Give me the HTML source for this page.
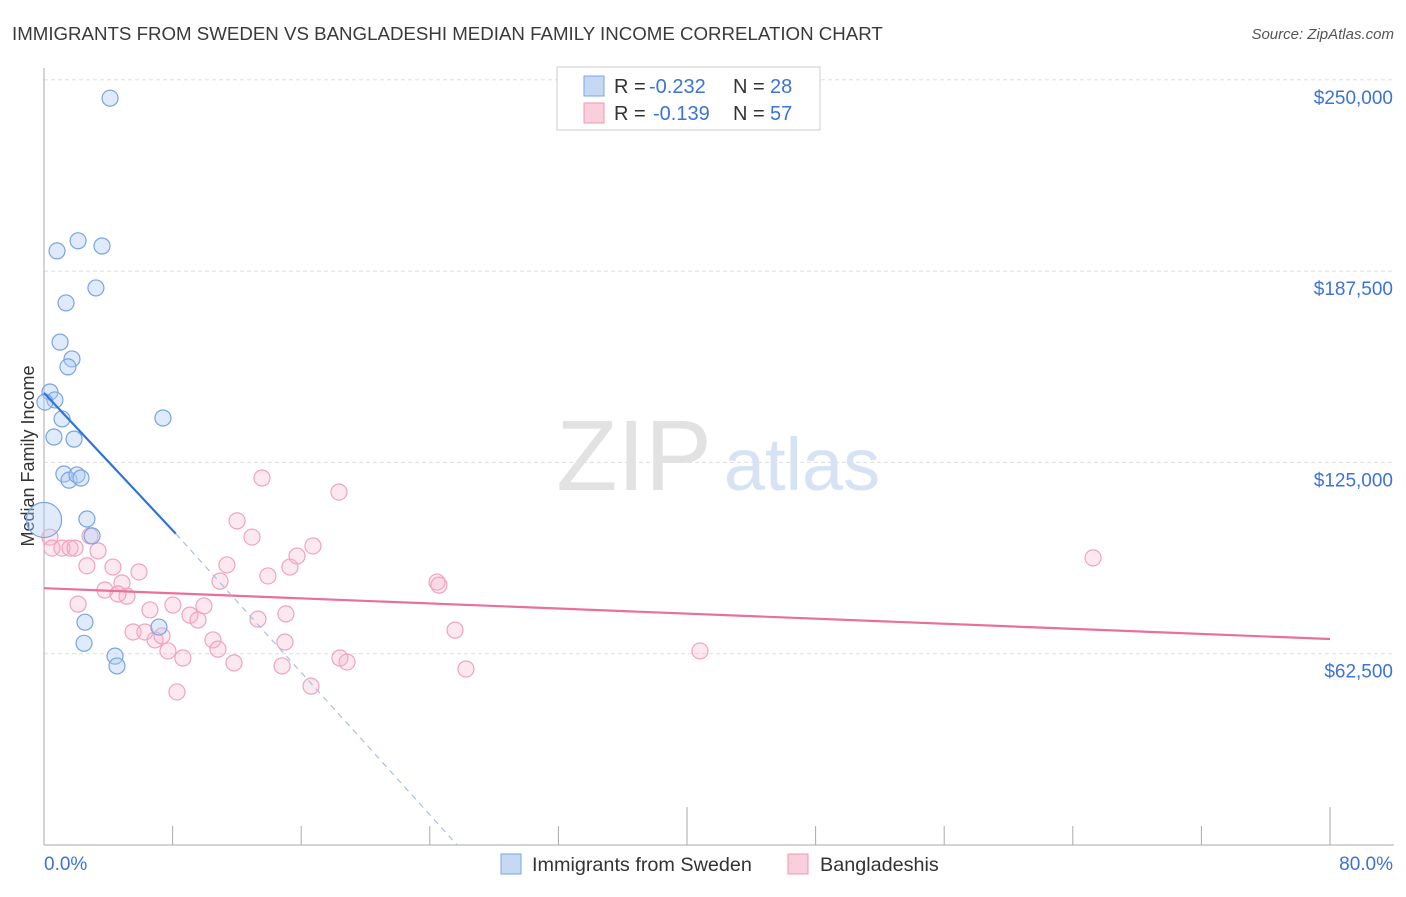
<!DOCTYPE html>
<html><head><meta charset="utf-8"><style>
body{margin:0;background:#fff;font-family:"Liberation Sans",sans-serif;}
svg text{font-family:"Liberation Sans",sans-serif;}
</style></head><body>
<svg id="chart" width="1406" height="892" viewBox="0 0 1406 892" xmlns="http://www.w3.org/2000/svg">
<text x="12" y="40" font-size="18.7" fill="#3a3a3a">IMMIGRANTS FROM SWEDEN VS BANGLADESHI MEDIAN FAMILY INCOME CORRELATION CHART</text>
<text x="1394" y="39" font-size="15" fill="#555" text-anchor="end" font-style="italic">Source: ZipAtlas.com</text>
<g id="grid"></g>
<g><text x="634" y="490" font-size="100" fill="#e2e2e2" text-anchor="middle" font-family="Liberation Serif">ZIP</text><text x="802" y="490" font-size="74" fill="#d7e3f4" text-anchor="middle">atlas</text></g>
<text transform="translate(34,456) rotate(-90)" font-size="18" fill="#333" text-anchor="middle">Median Family Income</text>
<g id="axes"></g>
<g id="pts"></g>
<g id="lines"></g>
<g>
<rect x="557" y="67" width="263" height="63" fill="#fff" stroke="#ccc"/>
<rect x="584" y="76" width="20" height="20" fill="#c5d9f5" stroke="#7aa6e6"/>
<rect x="584" y="103" width="20" height="20" fill="#f9cfdc" stroke="#ef9ab5"/>
<text x="614" y="93" font-size="20" fill="#333">R =</text>
<text x="649" y="93" font-size="20" fill="#3b73d6">-0.232</text>
<text x="733" y="93" font-size="20" fill="#333">N =</text>
<text x="770" y="93" font-size="20" fill="#3b73d6">28</text>
<text x="614" y="120" font-size="20" fill="#333">R =</text>
<text x="653" y="120" font-size="20" fill="#3b73d6">-0.139</text>
<text x="733" y="120" font-size="20" fill="#333">N =</text>
<text x="770" y="120" font-size="20" fill="#3b73d6">57</text>
</g>
<g>
<rect x="501" y="854" width="20" height="20" fill="#c5d9f5" stroke="#7aa6e6"/>
<text x="532" y="871" font-size="19.8" fill="#333">Immigrants from Sweden</text>
<rect x="788" y="854" width="20" height="20" fill="#f9cfdc" stroke="#ef9ab5"/>
<text x="820" y="871" font-size="19.8" fill="#333">Bangladeshis</text>
</g>
</svg>
<script>
const yTicks=[62500,125000,187500,250000];
const yTickLabels=["$62,500","$125,000","$187,500","$250,000"];
const xTickLabels=["0.0%","80.0%"];
const swedenX=[4.11,0.81,2.12,3.61,3.23,1.37,1.00,1.74,1.49,0.37,0.68,0.06,1.12,0.62,1.87,7.40,1.24,1.56,2.05,2.30,2.67,2.99,0.0,2.55,2.49,4.42,4.54,7.15];
const swedenY=[244.0,194.1,197.4,195.7,182.0,177.1,164.3,158.8,156.2,148.0,145.4,144.7,139.2,133.3,132.6,139.5,121.2,119.2,120.9,119.9,106.5,101.0,106.2,72.8,65.9,61.7,58.5,71.2];
const swedenSize=[1,1,1,1,1,1,1,1,1,1,1,1,1,1,1,1,1,1,1,1,1,1,2.2,1,1,1,1,1];
const bangX=[0.37,0.50,1.12,1.62,1.93,2.86,3.36,2.67,2.12,3.79,4.29,4.85,5.16,4.60,5.91,6.59,5.54,6.28,6.91,7.34,7.71,8.02,8.64,8.27,9.08,9.58,9.95,10.51,10.82,10.95,11.38,11.82,12.01,12.94,13.31,13.93,13.56,14.81,15.05,14.99,15.30,15.74,16.61,16.73,18.35,18.41,18.85,24.45,24.57,25.57,26.25,40.81,65.26];
const bangY=[100.6,97.0,97.0,97.0,97.0,101.0,96.1,91.2,78.7,83.3,90.8,85.6,81.3,82.0,89.2,76.8,69.6,69.6,67.0,68.3,63.4,78.4,61.1,50.0,75.1,73.5,78.1,67.0,64.0,86.2,91.5,59.5,105.9,100.6,73.8,87.9,119.9,58.5,75.5,66.3,90.8,94.4,51.9,97.7,115.3,61.1,59.8,85.9,84.9,70.2,57.5,63.4,93.8];
const swedenTrend=[[0,147.7],[8.2,101.7]];
const swedenTrendExt=[[8.2,101.7],[25.7,0]];
const bangTrend=[[0,83.9],[80,67.3]];

const NS="http://www.w3.org/2000/svg";
const X0=44,X1=1330,Y0=845,PXPERK=191.3/62.5;
function sx(p){return X0+(p/80)*(X1-X0);}
function sy(k){return Y0-k*PXPERK;}
function mk(tag,attrs,parent){const e=document.createElementNS(NS,tag);for(const k in attrs)e.setAttribute(k,attrs[k]);parent.appendChild(e);return e;}
const grid=document.getElementById('grid'),axes=document.getElementById('axes'),pts=document.getElementById('pts'),lines=document.getElementById('lines');
yTicks.forEach((v,i)=>{
 const y=sy(v/1000);
 const l=mk('line',{x1:X0,x2:1394,y1:y,y2:y,stroke:'#ddd','stroke-dasharray':'4,3'},grid);
 
 
 const t=mk('text',{x:1393,y:y+24,'font-size':19,fill:'#3b73d6','text-anchor':'end'},axes);
 
 
 t.textContent=yTickLabels[i];
});
let a=mk('line',{x1:X0,x2:X0,y1:68,y2:Y0,stroke:'#aaa'},axes);


a=mk('line',{x1:X0,x2:1394,y1:Y0,y2:Y0,stroke:'#aaa'},axes);


for(let i=1;i<=10;i++){
 const x=sx(i*8);
 const tall=(i==5||i==10);
 const t=mk('line',{x1:x,x2:x,y1:tall?807:826,y2:Y0,stroke:'#aaa'},axes);
 
 
}
[[0,'start',44],[80,'end',1393]].forEach((d,i)=>{
 const t=mk('text',{x:d[2],y:870,'font-size':19,fill:'#3b73d6','text-anchor':d[1]},axes);
 
 
 t.textContent=xTickLabels[i];
});
bangX.forEach((x,i)=>{
 const c=mk('circle',{cx:sx(x),cy:sy(bangY[i]),r:8,fill:'rgba(246,175,200,0.28)',stroke:'#f0a3bc','stroke-width':1.2},pts);
 
 
});
swedenX.forEach((x,i)=>{
 const c=mk('circle',{cx:sx(x),cy:sy(swedenY[i]),r:8*swedenSize[i],fill:'rgba(175,205,242,0.4)',stroke:'#78a4e2','stroke-width':1.2},pts);
 
 
});
function seg(p,attrs,name){const l=mk('line',Object.assign({x1:sx(p[0][0]),y1:sy(p[0][1]),x2:sx(p[1][0]),y2:sy(p[1][1])},attrs),lines);
 
 }
seg(bangTrend,{stroke:'#e8709a','stroke-width':2.2},'bangladeshi-trend-line');
seg(swedenTrend,{stroke:'#2f74d8','stroke-width':2.2},'sweden-trend-line');
seg(swedenTrendExt,{stroke:'#a8bfe6','stroke-width':1.2,'stroke-dasharray':'6,5'},'sweden-trend-extension');
</script>
</body></html>
